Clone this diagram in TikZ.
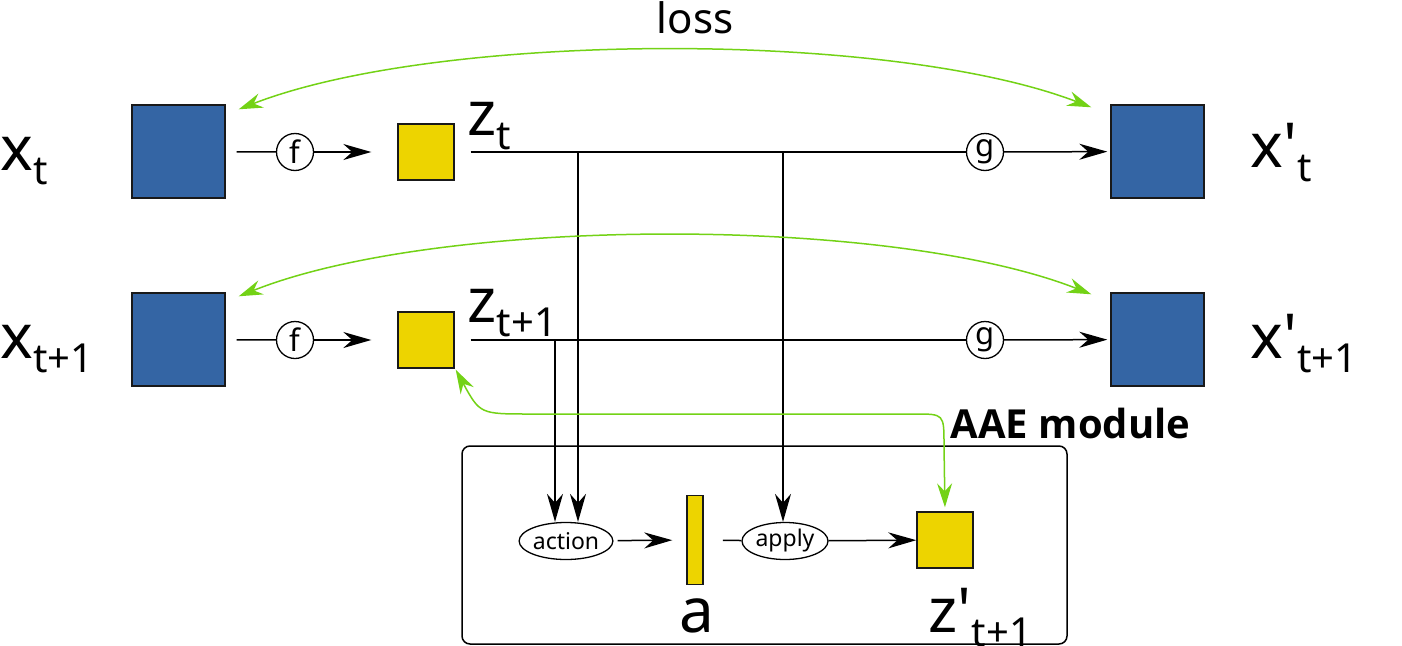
\documentclass[tikz,border=0pt]{standalone}
\usepackage{fontspec}
\setmainfont{Noto Sans}[Ligatures=TeXOff]
\newfontfamily\aaefont{Open Sans}[Ligatures=TeXOff]
\usetikzlibrary{arrows.meta,shapes.geometric,calc}

\definecolor{imgblue}{HTML}{3465A4}
\definecolor{codeyellow}{HTML}{EDD400}
\definecolor{lossgreen}{HTML}{73D216}

\newcommand{\bigsub}[1]{\raisebox{-14pt}{\fontsize{40}{44}\selectfont #1}}

\tikzset{
  imgbox/.style={draw=black!90, fill=imgblue, line width=1.4pt, minimum size=93pt, inner sep=0pt},
  codebox/.style={draw=black!90, fill=codeyellow, line width=1.4pt, minimum size=56pt, inner sep=0pt},
  fun/.style={circle, draw, fill=white, line width=1.3pt, minimum size=37pt, inner sep=0pt, font=\fontsize{31}{33}\selectfont},
  op/.style={ellipse, draw, fill=white, line width=1.3pt, minimum width=86pt, minimum height=37pt, inner sep=0pt, font=\fontsize{23}{25}\selectfont},
  lab/.style={anchor=base west, inner sep=0pt, font=\fontsize{62}{66}\selectfont},
  flow/.style={line width=1.5pt, -{Stealth[length=28pt,width=16pt,inset=9pt]}},
  lossarc/.style={lossgreen, line width=1.5pt, {Stealth[length=24pt,width=15pt,inset=8pt]}-{Stealth[length=24pt,width=15pt,inset=8pt]}}
}

\begin{document}
\begin{tikzpicture}[x=1pt, y=-1pt, line width=1.5pt]
\useasboundingbox (0,0) rectangle (1402,645);

% AAE module frame
\node[draw, rounded corners=8pt, minimum width=605pt, minimum height=198pt, inner sep=0pt] (aae) at (764.5,545) {};
\node[anchor=base west, inner sep=0pt, font=\fontsize{40}{44}\selectfont\aaefont\bfseries] (aaelab) at (950,438) {AAE module};

% images and codes
\node[imgbox] (xt) at (178.5,151.5) {};
\node[imgbox] (xt1) at (178.5,339.5) {};
\node[imgbox] (xpt) at (1157.5,151.5) {};
\node[imgbox] (xpt1) at (1157.5,339.5) {};
\node[codebox] (zt) at (426,152) {};
\node[codebox] (zt1) at (426,340) {};
\node[codebox] (zp) at (945,540) {};
\node[draw=black!90, fill=codeyellow, minimum width=16pt, minimum height=89pt, inner sep=0pt] (abar) at (695,540) {};

% functions
\node[fun] (ft) at (295,152) {f};
\node[fun] (ft1) at (295,340) {f};
\node[fun] (gt) at (985,152) {g};
\node[fun] (gt1) at (985,340) {g};
\node[op] (act) at (566,541) {action};
\node[op] (app) at (785,541) {apply};

% labels
\node[lab] (lxt) at (0,170) {x\bigsub{t}};
\node[lab] (lxt1) at (0,358) {x\bigsub{t+1}};
\node[lab] (lzt) at (467,135) {z\bigsub{t}};
\node[lab] (lzt1) at (467,322) {z\bigsub{t+1}};
\node[lab] (lxpt) at (1250,167) {x'\bigsub{t}};
\node[lab] (lxpt1) at (1250,358) {x'\bigsub{t+1}};
\node[lab] (la) at (679,632) {a};
\node[lab] (lzp) at (928,632) {z'\bigsub{t+1}};
\node[anchor=base, inner sep=0pt, font=\fontsize{42}{46}\selectfont] (lloss) at (695,33) {loss};

% encoder / decoder
\draw[shorten <=11pt] (xt) -- (ft);
\draw[flow, shorten >=26pt] (ft) -- (zt);
\draw[shorten <=11pt] (xt1) -- (ft1);
\draw[flow, shorten >=26pt] (ft1) -- (zt1);
\draw[shorten <=16pt] (zt) -- (gt);
\draw[flow, shorten >=3pt] (gt) -- (xpt);
\draw[shorten <=16pt] (zt1) -- (gt1);
\draw[flow, shorten >=3pt] (gt1) -- (xpt1);

% taps into the module
\coordinate (tapzt) at (578,152);
\coordinate (tapzt1) at (555,340);
\coordinate (tapapp) at (783,152);
\draw[flow] (tapzt) -- (act.north -| tapzt);
\draw[flow] (tapzt1) -- (act.north -| tapzt1);
\draw[flow] (tapapp) -- (app.north -| tapapp);
\draw[flow, shorten <=4pt, shorten >=14pt] (act) -- (abar);
\draw[shorten <=19pt] (abar) -- (app);
\draw[flow] (app) -- (zp);

% losses
\draw[lossarc] ($(xt.north east)+(13,5)$) .. controls (440,31) and (890,30) .. ($(xpt.north west)+(-19,3)$);
\draw[lossarc] ($(xt1.north east)+(13,4)$) .. controls (440,216) and (890,215) .. ($(xpt1.north west)+(-19,2)$);
\draw[lossarc, shorten >=4pt] ($(zt1.south east)+(1,1)$) .. controls (480,414) .. (530,414) -- (915,414) .. controls (944,414) .. (944,445) -- (zp.north);

\end{tikzpicture}
\end{document}
